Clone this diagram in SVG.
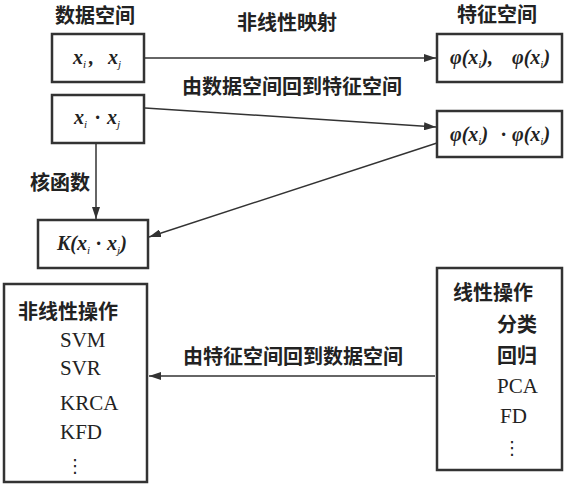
<svg xmlns="http://www.w3.org/2000/svg" width="566" height="486" viewBox="0 0 566 486">
<defs>
<style>
.box{fill:#fff;stroke:#333;stroke-width:2.5}
.cn{font-family:"Noto Sans CJK SC","Noto Sans",sans-serif;font-weight:bold;font-size:20px;fill:#222}
.math{font-family:"Liberation Serif",serif;font-style:italic;font-weight:bold;font-size:20px;fill:#222}
.sub{font-size:11px;font-weight:normal}
.lst{font-family:"Liberation Serif",serif;font-size:21px;fill:#222}
.dots{font-family:"DejaVu Sans",sans-serif;font-size:18px;fill:#222}
.ln{stroke:#333;stroke-width:1.5;fill:none;marker-end:url(#ah)}
</style>
<marker id="ah" viewBox="0 0 12 8" refX="12" refY="4" markerWidth="12" markerHeight="8" markerUnits="userSpaceOnUse" orient="auto">
<path d="M0,0 L12,4 L0,8 Z" fill="#333"/>
</marker>
</defs>
<rect width="566" height="486" fill="#fff"/>

<g id="labels">
<text class="cn" x="55" y="23">数据空间</text>
<text class="cn" x="457" y="22">特征空间</text>
<text class="cn" x="237" y="30">非线性映射</text>
<text class="cn" x="182" y="94">由数据空间回到特征空间</text>
<text class="cn" x="30" y="190">核函数</text>
<text class="cn" x="183" y="364">由特征空间回到数据空间</text>
</g>

<g id="connectors">
<line class="ln" x1="145" y1="58" x2="436" y2="58"/>
<line class="ln" x1="145" y1="108" x2="436" y2="127"/>
<line class="ln" x1="437" y1="143" x2="149" y2="237"/>
<line class="ln" x1="96" y1="144" x2="96" y2="219"/>
<line class="ln" x1="435" y1="376" x2="149" y2="376"/>
</g>

<g id="node-xixj-pair">
<rect class="box" x="52" y="34" width="92" height="48"/>
<text class="math" x="73" y="64">x<tspan class="sub" dy="4">i</tspan></text>
<text class="math" x="89" y="64">,</text>
<text class="math" x="108" y="64">x<tspan class="sub" dy="4">j</tspan></text>
</g>

<g id="node-xixj-dot">
<rect class="box" x="52" y="95" width="92" height="48"/>
<text class="math" x="74" y="124">x<tspan class="sub" dy="4">i</tspan></text>
<text class="math" x="95" y="124">·</text>
<text class="math" x="107" y="124">x<tspan class="sub" dy="4">j</tspan></text>
</g>

<g id="node-phi-pair">
<rect class="box" x="437" y="34" width="125" height="48"/>
<text class="math" x="450" y="64">φ(x<tspan class="sub" dy="4">i</tspan><tspan dy="-4">),</tspan></text>
<text class="math" x="512" y="64">φ(x<tspan class="sub" dy="4">i</tspan><tspan dy="-4">)</tspan></text>
</g>

<g id="node-phi-dot">
<rect class="box" x="437" y="111" width="125" height="46"/>
<text class="math" x="450" y="141">φ(x<tspan class="sub" dy="4">i</tspan><tspan dy="-4">)</tspan></text>
<text class="math" x="501" y="141">·</text>
<text class="math" x="512" y="141">φ(x<tspan class="sub" dy="4">i</tspan><tspan dy="-4">)</tspan></text>
</g>

<g id="node-kernel">
<rect class="box" x="38" y="220" width="110" height="48"/>
<text class="math" x="57" y="250">K(x<tspan class="sub" dy="4">i</tspan><tspan dx="6" dy="-4">·</tspan><tspan dx="6">x</tspan><tspan class="sub" dy="4">j</tspan><tspan dy="-4">)</tspan></text>
</g>

<g id="node-nonlinear">
<rect class="box" x="4" y="284" width="143" height="198"/>
<text class="cn" x="18" y="319">非线性操作</text>
<text class="lst" x="60" y="347">SVM</text>
<text class="lst" x="60" y="375">SVR</text>
<text class="lst" x="60" y="410">KRCA</text>
<text class="lst" x="60" y="439">KFD</text>
<text class="dots" x="75" y="472" text-anchor="middle">⋮</text>
</g>

<g id="node-linear">
<rect class="box" x="437" y="268" width="125" height="202"/>
<text class="cn" x="453" y="300">线性操作</text>
<text class="cn" x="497" y="332">分类</text>
<text class="cn" x="497" y="363">回归</text>
<text class="lst" x="497" y="393">PCA</text>
<text class="lst" x="500" y="423">FD</text>
<text class="dots" x="512" y="454" text-anchor="middle">⋮</text>
</g>
</svg>
